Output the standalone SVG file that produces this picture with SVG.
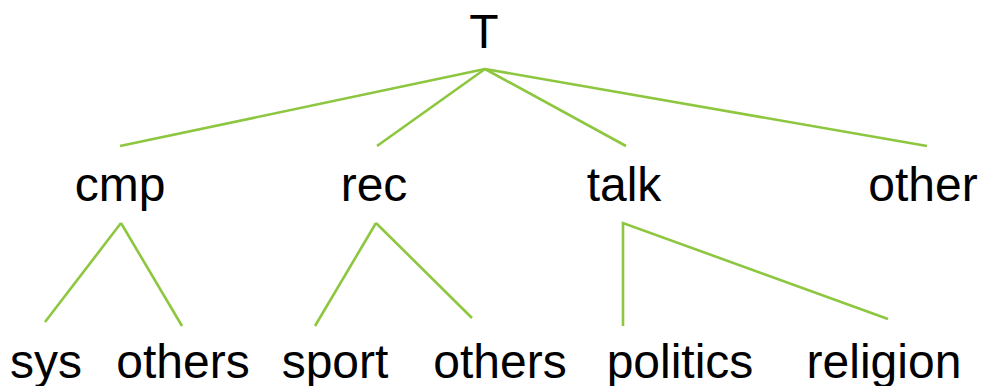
<svg xmlns="http://www.w3.org/2000/svg" width="986" height="386" viewBox="0 0 986 386">
<style>
text{font-family:"Liberation Sans",Arial,sans-serif;font-size:48px;fill:#000;text-anchor:middle}
.e{stroke:#8dc63f;stroke-width:2.6;fill:none;stroke-linecap:butt}
</style>
<rect width="986" height="386" fill="#fff"/>
<g id="connectors">
<line class="e" x1="485" y1="69" x2="120" y2="146"/>
<line class="e" x1="485" y1="69" x2="377" y2="146"/>
<line class="e" x1="485" y1="69" x2="626" y2="146"/>
<line class="e" x1="485" y1="69" x2="927" y2="146"/>
<line class="e" x1="121" y1="223" x2="45" y2="322"/>
<line class="e" x1="121" y1="223" x2="182" y2="326"/>
<line class="e" x1="376" y1="223" x2="315" y2="326"/>
<line class="e" x1="376" y1="223" x2="472" y2="318"/>
<polyline class="e" points="623,326 623,223 888,319"/>
</g>
<g id="n-T"><text x="484" y="48">T</text></g>
<g id="n-cmp"><text x="120" y="201">cmp</text></g>
<g id="n-rec"><text x="374" y="201">rec</text></g>
<g id="n-talk"><text x="624" y="201">talk</text></g>
<g id="n-other"><text x="923" y="201">other</text></g>
<g id="n-sys"><text x="46" y="378">sys</text></g>
<g id="n-others1"><text x="183" y="378">others</text></g>
<g id="n-sport"><text x="335" y="378">sport</text></g>
<g id="n-others2"><text x="500" y="378">others</text></g>
<g id="n-politics"><text x="680" y="378">politics</text></g>
<g id="n-religion"><text x="884" y="378">religion</text></g>
</svg>
